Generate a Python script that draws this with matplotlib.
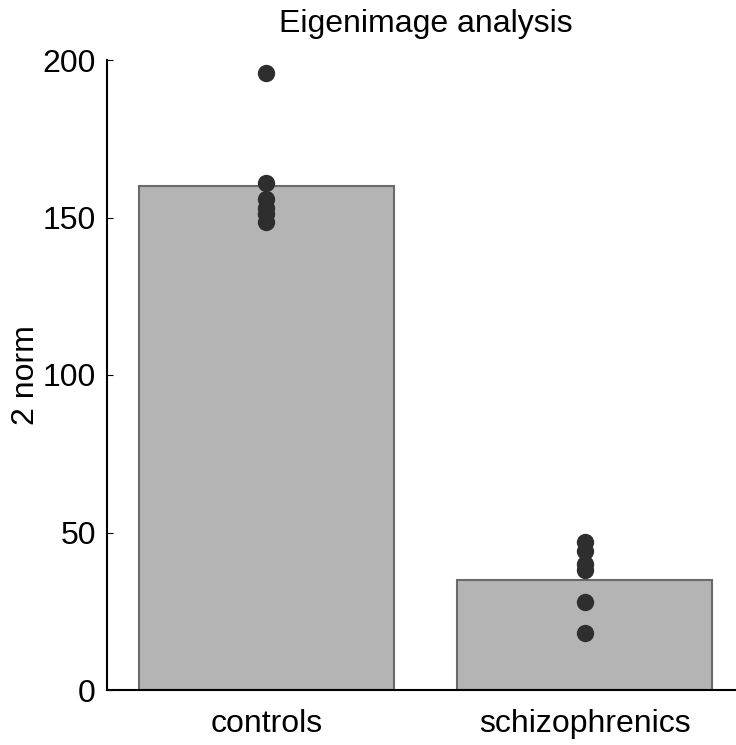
import numpy as np
import matplotlib.pyplot as plt

plt.rcParams['font.family'] = ['Liberation Sans', 'DejaVu Sans']

# data
groups = ["controls", "schizophrenics"]
bar_heights = [160, 35]
controls_points = [196, 161, 156, 153, 151, 148.5]
schizo_points = [47, 44, 40, 38, 28, 18]
yticks = [0, 50, 100, 150, 200]

fig = plt.figure(figsize=(7.36, 7.45), dpi=100)
ax = fig.add_axes([107 / 736, 55 / 745, 637 / 736, 630 / 745])

x = np.arange(1, len(groups) + 1)
ax.bar(x, bar_heights, width=0.8, color='#b4b4b4', edgecolor='#6a6a6a',
       linewidth=1.5, zorder=1)

for xi, pts in zip(x, [controls_points, schizo_points]):
    ax.plot([xi] * len(pts), pts, 'o', color='#2e2e2e', markersize=12.5,
            markeredgewidth=0, zorder=3)

ax.set_xlim(0.5, 2.5)
ax.set_ylim(0, 200)
ax.set_yticks(yticks)
ax.set_xticks(x)
ax.set_xticklabels(groups, fontsize=23)
ax.tick_params(axis='y', direction='in', length=4, labelsize=23, pad=8)
ax.tick_params(axis='x', length=0, pad=14)

ax.spines['top'].set_visible(False)
ax.spines['right'].set_visible(False)
ax.spines['left'].set_linewidth(1.5)
ax.spines['bottom'].set_linewidth(1.5)

ax.set_ylabel("2 norm", fontsize=23, labelpad=1)
ax.set_title("Eigenimage analysis", fontsize=23, pad=20)

fig.savefig("out.png", dpi=100)
